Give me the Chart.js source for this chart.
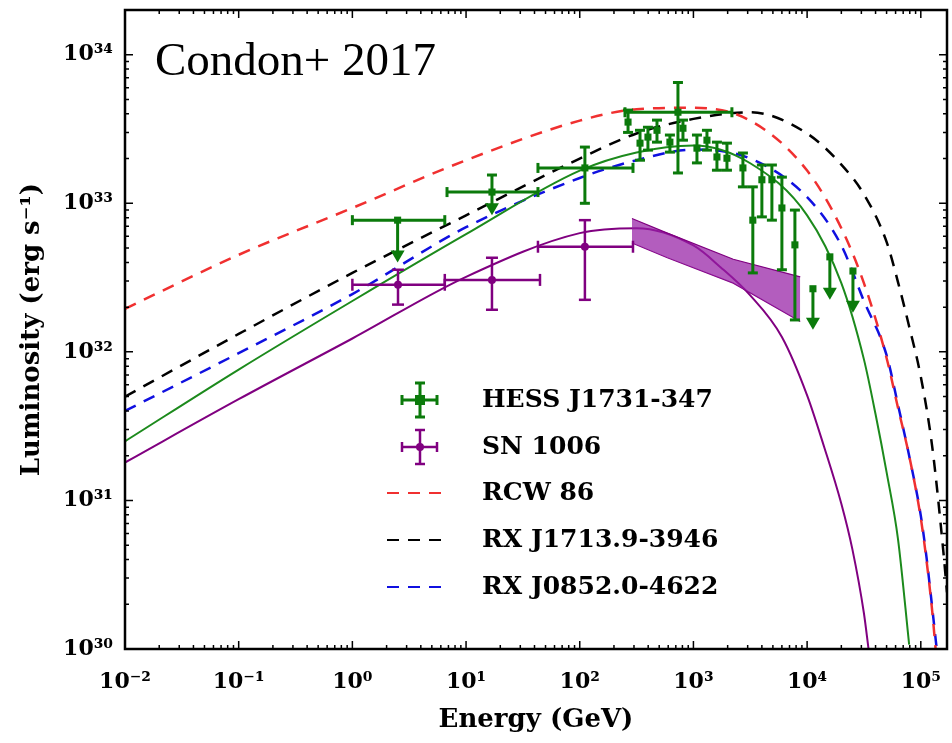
<!DOCTYPE html>
<html>
<head>
<meta charset="utf-8">
<script src="https://cdn.jsdelivr.net/npm/chart.js@4.4.0/dist/chart.umd.min.js"></script>
<style>
  body { margin: 0; background: #fff; }
</style>
</head>
<body>
<canvas id="myChart" width="952" height="743"></canvas>
<script>
// model curves, energy in GeV and luminosity in erg/s
const rcwE = [0.01, 0.1, 1, 10, 100, 316, 1000, 3160, 1e4, 2e4, 3.16e4, 5e4, 6.3e4, 7.9e4, 1e5, 1.12e5, 1.26e5, 1.35e5];
const rcwL = [1.95e32, 4.5e32, 9.3e32, 1.95e33, 3.6e33, 4.3e33, 4.4e33, 3.6e33, 1.66e33, 6.8e32, 2.9e32, 9.1e31, 4.2e31, 2.0e31, 7.6e30, 4.0e30, 1.8e30, 1.0e30];

const rxj1713E = [0.01, 0.1, 1, 10, 100, 316, 1000, 3160, 1e4, 2e4, 3.16e4, 5e4, 6.3e4, 7.9e4, 1e5, 1.26e5, 1.58e5, 1.7e5];
const rxj1713L = [5.0e31, 1.32e32, 3.4e32, 8.3e32, 2.0e33, 2.95e33, 3.7e33, 4.1e33, 2.95e33, 1.82e33, 1.15e33, 5.5e32, 2.95e32, 1.48e32, 6.8e31, 2.3e31, 4.5e30, 2.4e30];

const rxj0852E = [0.01, 0.1, 1, 10, 100, 316, 1000, 3160, 1e4, 2e4, 3.16e4, 5e4, 6.3e4, 7.9e4, 1e5, 1.12e5, 1.26e5, 1.38e5];
const rxj0852L = [4.0e31, 9.8e31, 2.45e32, 6.9e32, 1.48e33, 1.95e33, 2.3e33, 2.0e33, 1.1e33, 5.2e32, 2.2e32, 9.5e31, 4.4e31, 2.0e31, 7.9e30, 4.2e30, 1.9e30, 1.0e30];

const hessModelE = [0.01, 0.1, 1, 10, 100, 316, 1000, 3160, 1e4, 2e4, 3.16e4, 4e4, 5e4, 6.3e4, 7.9e4];
const hessModelL = [2.5e31, 7.6e31, 2.2e32, 6.2e32, 1.66e33, 2.2e33, 2.45e33, 1.86e33, 8.3e32, 2.9e32, 8.9e31, 3.8e31, 1.55e31, 5.5e30, 1.07e30];

const snModelE = [0.01, 0.1, 1, 10, 100, 316, 1000, 1740, 3160, 6000, 1e4, 1.41e4, 2e4, 2.5e4, 3.16e4, 3.47e4];
const snModelL = [1.8e31, 4.8e31, 1.23e32, 3.2e32, 6.3e32, 6.8e32, 5.2e32, 3.7e32, 2.4e32, 1.26e32, 5.1e31, 2.3e31, 9.5e30, 4.7e30, 1.74e30, 1.0e30];

// SN 1006 HESS butterfly
const bandE = [288, 590, 2240, 8700];
const bandHigh = [7.9e32, 6.3e32, 4.2e32, 3.2e32];
const bandLow = [5.4e32, 4.3e32, 2.9e32, 1.6e32];

// HESS J1731-347 data points
const hessE    = [2.5, 16.9, 111, 266, 731, 339, 398, 478, 621, 809, 1074, 1315, 1610, 1972, 2725, 3330, 4000, 4900, 6000, 7810, 11250, 15850, 25300];
const hessL    = [7.7e32, 1.19e33, 1.73e33, 3.52e33, 4.1e33, 2.54e33, 2.79e33, 3.1e33, 2.58e33, 3.2e33, 2.35e33, 2.66e33, 2.05e33, 2.01e33, 1.73e33, 7.7e32, 1.44e33, 1.44e33, 9.3e32, 5.25e32, 2.66e32, 4.36e32, 3.5e32];
const hessEmin = [1.0, 6.8, 42.9, null, 250, null, null, null, null, null, null, null, null, null, null, null, null, null, null, null, null, null, null];
const hessEmax = [6.5, 42.9, 294, null, 2180, null, null, null, null, null, null, null, null, null, null, null, null, null, null, null, null, null, null];
const hessLmin = [4.0e32, 8.3e32, 1.0e33, 3.0e33, 1.6e33, 1.95e33, 2.28e33, 2.58e33, 2.21e33, 2.66e33, 1.87e33, 2.28e33, 1.67e33, 1.67e33, 1.29e33, 3.4e32, 8.1e32, 7.7e32, 3.57e32, 1.64e32, 1.41e32, 2.24e32, 1.83e32];
const hessLmax = [7.7e32, 1.55e33, 2.39e33, 4.24e33, 6.5e33, 3.1e33, 3.25e33, 3.63e33, 2.88e33, 3.63e33, 2.88e33, 3.1e33, 2.58e33, 2.54e33, 2.18e33, 1.29e33, 1.81e33, 1.81e33, 1.5e33, 9.0e32, 2.66e32, 4.36e32, 3.5e32];
const hessArrow = [1, 1, 0, 0, 0, 0, 0, 0, 0, 0, 0, 0, 0, 0, 0, 0, 0, 0, 0, 0, 1, 1, 1];

// SN 1006 data points
const snE    = [2.52, 16.9, 111];
const snL    = [2.83e32, 3.05e32, 5.1e32];
const snEmin = [1.0, 6.5, 42.9];
const snEmax = [6.5, 44.7, 294];
const snLmin = [2.08e32, 1.92e32, 2.24e32];
const snLmax = [3.57e32, 4.3e32, 7.7e32];
const snArrow = [0, 0, 0];

const legendLabels = ['HESS J1731-347', 'SN 1006', 'RCW 86', 'RX J1713.9-3946', 'RX J0852.0-4622'];

const GREEN = '#0b7a0b';
const PURPLE = '#800080';
const SERIF = '"DejaVu Serif", serif';

const toXY = (xs, ys) => xs.map((x, i) => ({ x: x, y: ys[i] }));

const SUP = { '-': '\u207B', '0': '\u2070', '1': '\u00B9', '2': '\u00B2', '3': '\u00B3', '4': '\u2074', '5': '\u2075', '6': '\u2076', '7': '\u2077', '8': '\u2078', '9': '\u2079' };
function powLabel(v) {
  const e = Math.log10(v);
  if (Math.abs(e - Math.round(e)) > 1e-6) return '';
  return '10' + String(Math.round(e)).split('').map(c => SUP[c]).join('');
}

function drawCapV(ctx, x, y, w) { ctx.beginPath(); ctx.moveTo(x - w, y); ctx.lineTo(x + w, y); ctx.stroke(); }
function drawCapH(ctx, x, y, h) { ctx.beginPath(); ctx.moveTo(x, y - h); ctx.lineTo(x, y + h); ctx.stroke(); }
function drawArrow(ctx, x, y, w, h) {
  ctx.beginPath(); ctx.moveTo(x - w, y - h); ctx.lineTo(x + w, y - h); ctx.lineTo(x, y); ctx.closePath(); ctx.fill();
}

// error bars, drawn just before their dataset's markers
const errorBars = {
  id: 'errorBars',
  beforeDatasetDraw(chart, args) {
    const ds = chart.data.datasets[args.index];
    if (!ds.errors) return;
    const err = ds.errors;
    const xs = chart.scales.x, ys = chart.scales.y;
    const ctx = chart.ctx, area = chart.chartArea;
    ctx.save();
    ctx.beginPath();
    ctx.rect(area.left, area.top, area.right - area.left, area.bottom - area.top);
    ctx.clip();
    ctx.strokeStyle = ds.borderColor;
    ctx.fillStyle = ds.borderColor;
    ctx.lineWidth = err.lineWidth;
    err.E.forEach((e, i) => {
      const px = xs.getPixelForValue(e);
      const py = ys.getPixelForValue(err.L[i]);
      if (err.Emin[i] != null) {
        const x0 = xs.getPixelForValue(err.Emin[i]), x1 = xs.getPixelForValue(err.Emax[i]);
        ctx.beginPath(); ctx.moveTo(x0, py); ctx.lineTo(x1, py); ctx.stroke();
        drawCapH(ctx, x0, py, err.cap);
        drawCapH(ctx, x1, py, err.cap);
      }
      const top = ys.getPixelForValue(err.Lmax[i]);
      const bot = ys.getPixelForValue(err.Lmin[i]);
      ctx.beginPath(); ctx.moveTo(px, top); ctx.lineTo(px, err.arrow[i] ? bot - 6 : bot); ctx.stroke();
      if (top < py - 2) drawCapV(ctx, px, top, err.cap);
      if (err.arrow[i]) drawArrow(ctx, px, bot, 7, 12);
      else drawCapV(ctx, px, bot, err.cap);
    });
    ctx.restore();
  }
};

// inward ticks on all four sides, frame, label and legend
const decor = {
  id: 'decor',
  afterDraw(chart) {
    const ctx = chart.ctx, a = chart.chartArea;
    const xs = chart.scales.x, ys = chart.scales.y;
    ctx.save();
    ctx.strokeStyle = '#000';
    ctx.lineWidth = 1.5;
    const ticksFor = (scale) => {
      const out = [];
      for (let k = Math.floor(Math.log10(scale.min)); k <= Math.ceil(Math.log10(scale.max)); k++) {
        for (let m = 1; m <= 9; m++) {
          const v = m * Math.pow(10, k);
          if (v >= scale.min * 0.999 && v <= scale.max * 1.001) out.push({ v: v, major: m === 1 });
        }
      }
      return out;
    };
    ticksFor(xs).forEach(t => {
      const px = xs.getPixelForValue(t.v), len = t.major ? 8 : 4;
      ctx.beginPath();
      ctx.moveTo(px, a.bottom); ctx.lineTo(px, a.bottom - len);
      ctx.moveTo(px, a.top); ctx.lineTo(px, a.top + len);
      ctx.stroke();
    });
    ticksFor(ys).forEach(t => {
      const py = ys.getPixelForValue(t.v), len = t.major ? 8 : 4;
      ctx.beginPath();
      ctx.moveTo(a.left, py); ctx.lineTo(a.left + len, py);
      ctx.moveTo(a.right, py); ctx.lineTo(a.right - len, py);
      ctx.stroke();
    });
    ctx.lineWidth = 2.5;
    ctx.strokeRect(a.left, a.top, a.right - a.left, a.bottom - a.top);

    ctx.fillStyle = '#000';
    ctx.font = '47px "Liberation Serif", "Times New Roman", serif';
    ctx.textBaseline = 'alphabetic';
    ctx.fillText('Condon+ 2017', 155, 75);

    // legend
    const rowY = [400, 447, 493, 540, 587];
    ctx.font = 'bold 25px ' + SERIF;
    ctx.textBaseline = 'middle';
    legendLabels.forEach((lab, i) => {
      ctx.fillStyle = '#000';
      ctx.fillText(lab, 482, rowY[i]);
    });
    const symbol = (y, color, lw, square) => {
      ctx.strokeStyle = color; ctx.fillStyle = color; ctx.lineWidth = lw;
      ctx.beginPath();
      ctx.moveTo(402, y); ctx.lineTo(437, y);
      ctx.moveTo(420, y - 17); ctx.lineTo(420, y + 17);
      ctx.stroke();
      drawCapH(ctx, 402, y, 5); drawCapH(ctx, 437, y, 5);
      drawCapV(ctx, 420, y - 17, 5); drawCapV(ctx, 420, y + 17, 5);
      ctx.beginPath();
      if (square) ctx.rect(415, y - 5, 10, 10); else ctx.arc(420, y, 4, 0, Math.PI * 2);
      ctx.fill();
    };
    symbol(rowY[0], GREEN, 3, true);
    symbol(rowY[1], PURPLE, 2.5, false);
    const dashed = (y, color) => {
      ctx.strokeStyle = color; ctx.lineWidth = 2;
      ctx.setLineDash([12, 9]);
      ctx.beginPath(); ctx.moveTo(387, y); ctx.lineTo(446, y); ctx.stroke();
      ctx.setLineDash([]);
    };
    dashed(rowY[2], '#f03030');
    dashed(rowY[3], '#000');
    dashed(rowY[4], '#1010e0');
    ctx.restore();
  }
};

const curve = (xs, ys, color, dash, width) => ({
  data: toXY(xs, ys),
  showLine: true,
  borderColor: color,
  backgroundColor: color,
  borderWidth: width,
  borderDash: dash,
  pointRadius: 0,
  cubicInterpolationMode: 'monotone',
  fill: false
});

const ctx = document.getElementById('myChart').getContext('2d');
const myChart = new Chart(ctx, {
  type: 'scatter',
  data: {
    datasets: [
      {
        data: toXY(hessE, hessL),
        pointStyle: 'rect', pointRadius: 5, borderWidth: 0,
        backgroundColor: GREEN, borderColor: GREEN,
        errors: { E: hessE, L: hessL, Emin: hessEmin, Emax: hessEmax, Lmin: hessLmin, Lmax: hessLmax, arrow: hessArrow, lineWidth: 3, cap: 5 }
      },
      {
        data: toXY(snE, snL),
        pointStyle: 'circle', pointRadius: 4, borderWidth: 0,
        backgroundColor: PURPLE, borderColor: PURPLE,
        errors: { E: snE, L: snL, Emin: snEmin, Emax: snEmax, Lmin: snLmin, Lmax: snLmax, arrow: snArrow, lineWidth: 2.5, cap: 6 }
      },
      Object.assign(curve(bandE, bandHigh, PURPLE, [], 1.2), { fill: '+1', backgroundColor: 'rgba(150, 30, 165, 0.72)', cubicInterpolationMode: 'default' }),
      Object.assign(curve(bandE, bandLow, PURPLE, [], 1.2), { cubicInterpolationMode: 'default' }),
      curve(hessModelE, hessModelL, '#1c8a1c', [], 2),
      curve(snModelE, snModelL, PURPLE, [], 2),
      curve(rcwE, rcwL, '#f03030', [12, 9], 2.5),
      curve(rxj1713E, rxj1713L, '#000', [12, 9], 2.5),
      curve(rxj0852E, rxj0852L, '#1010e0', [12, 9], 2.5)
    ]
  },
  options: {
    responsive: false,
    animation: false,
    layout: { padding: { top: 10, right: 5, left: 0, bottom: 0 } },
    plugins: {
      legend: { display: false },
      tooltip: { enabled: false }
    },
    scales: {
      x: {
        type: 'logarithmic',
        min: 0.01,
        max: 1.7e5,
        grid: { display: false, drawTicks: false },
        border: { display: false },
        ticks: {
          autoSkip: false, maxRotation: 0, padding: 20, color: '#000',
          font: { family: SERIF, size: 22, weight: 'bold' },
          callback: v => powLabel(v)
        },
        title: {
          display: true, text: 'Energy (GeV)', color: '#000',
          font: { family: SERIF, size: 26, weight: 'bold' },
          padding: { top: 0, bottom: 7 }
        },
        afterFit: s => { s.height = 94; s.paddingLeft = 0; s.paddingRight = 0; }
      },
      y: {
        type: 'logarithmic',
        min: 1e30,
        max: 2e34,
        grid: { display: false, drawTicks: false },
        border: { display: false },
        ticks: {
          autoSkip: false, padding: 12, color: '#000',
          font: { family: SERIF, size: 22, weight: 'bold' },
          callback: v => powLabel(v)
        },
        title: {
          display: true, text: 'Luminosity (erg s\u207B\u00B9)', color: '#000',
          font: { family: SERIF, size: 26, weight: 'bold' },
          padding: { top: 17, bottom: 0 }
        },
        afterFit: s => { s.width = 125; s.paddingTop = 0; s.paddingBottom = 0; }
      }
    }
  },
  plugins: [errorBars, decor]
});
</script>
</body>
</html>
